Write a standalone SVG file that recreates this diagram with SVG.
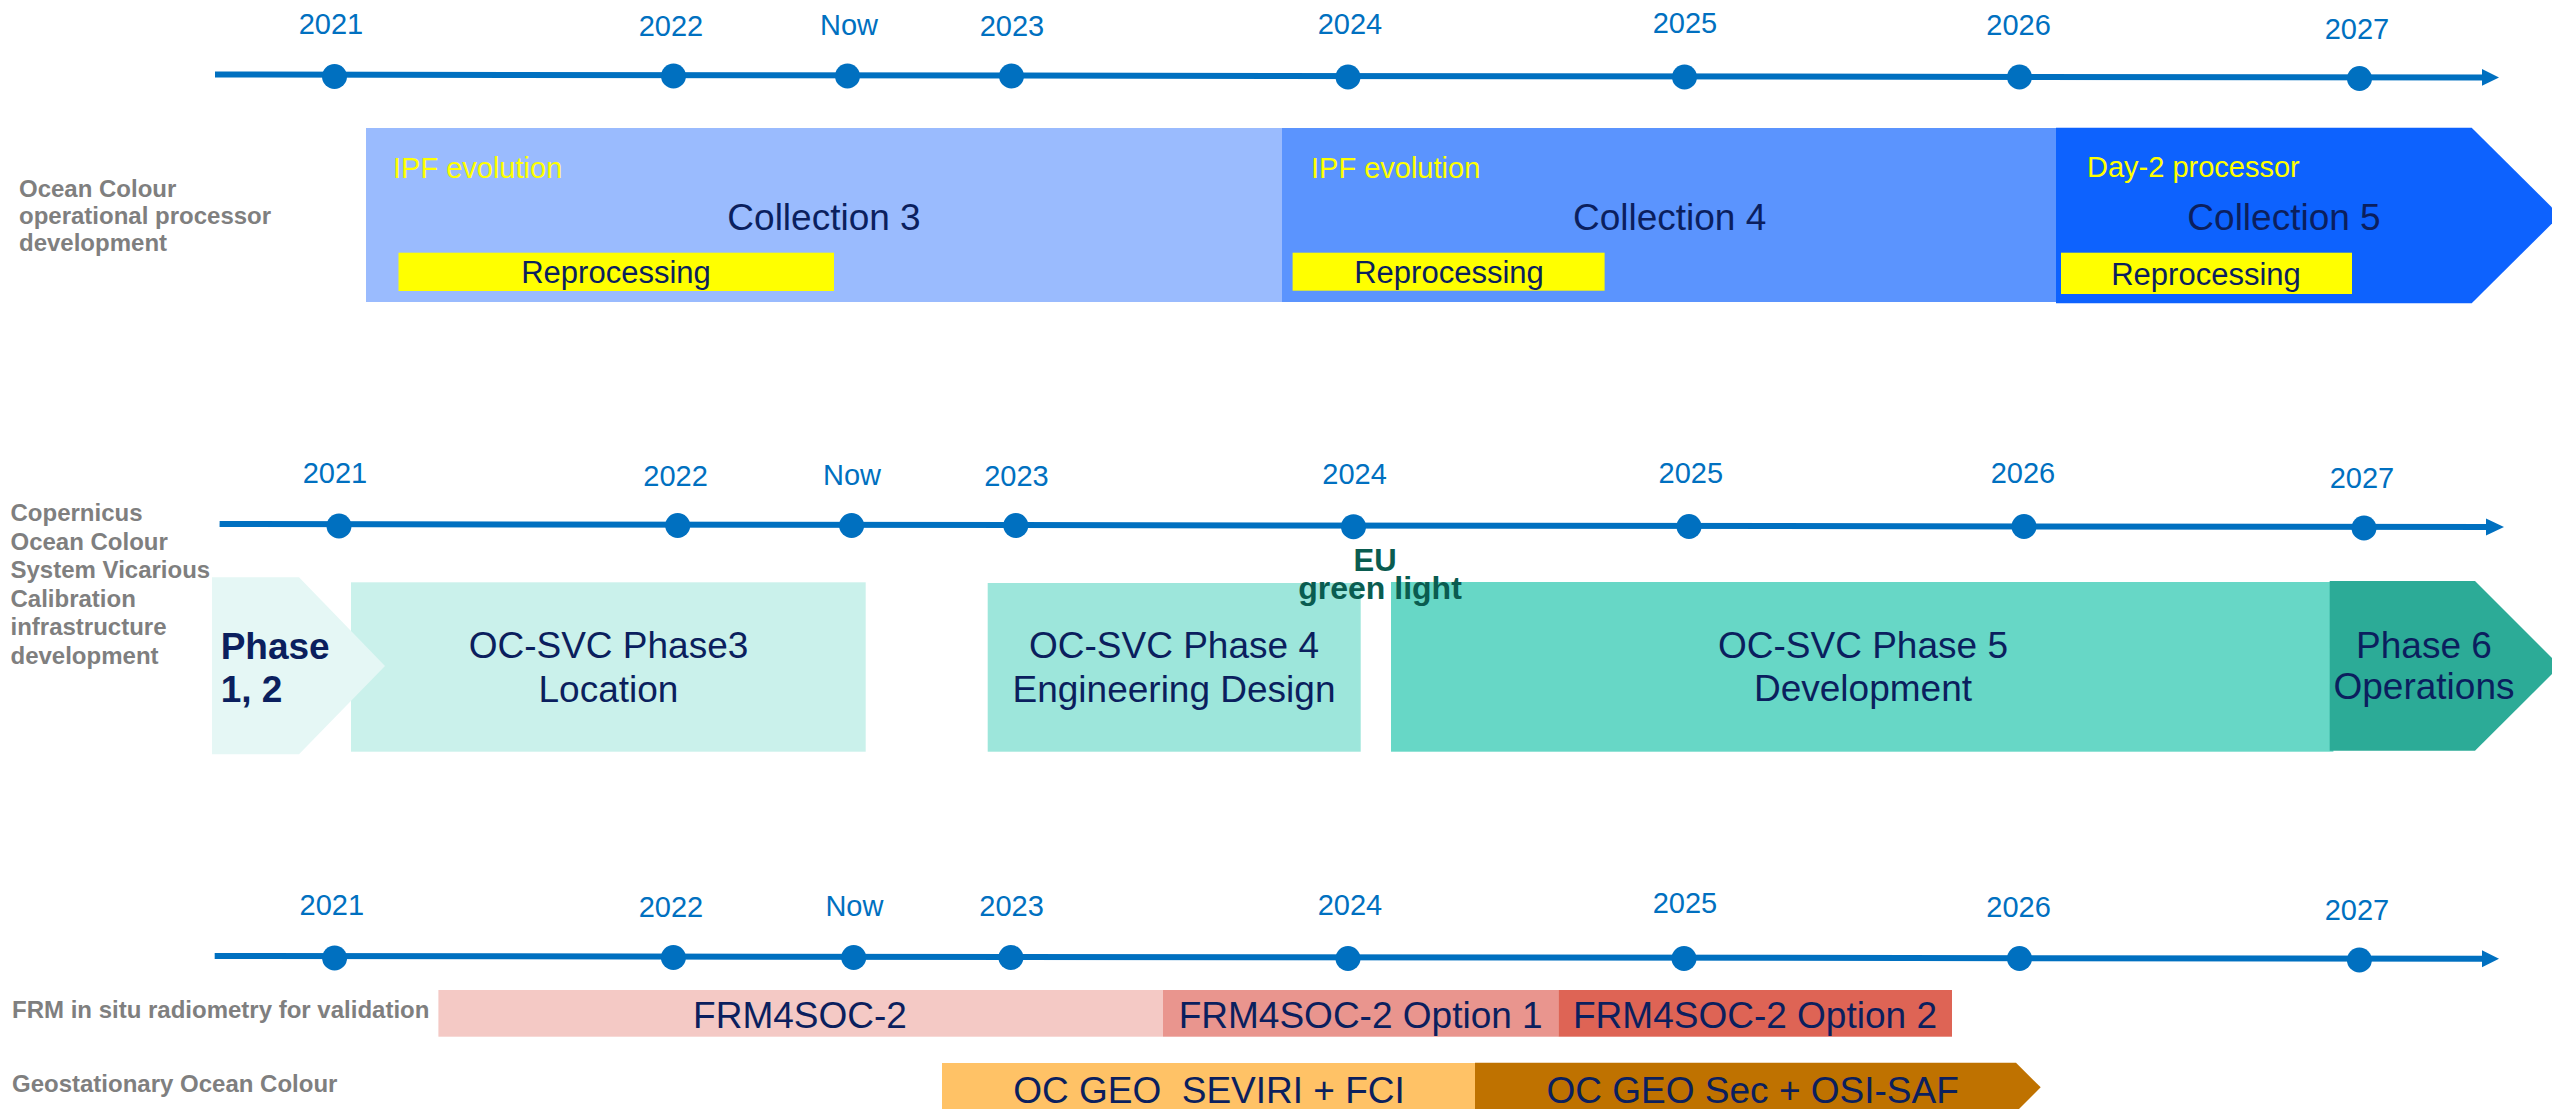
<svg xmlns="http://www.w3.org/2000/svg" width="2552" height="1109" viewBox="0 0 2552 1109">
  <style>
    .year { font-family: "Liberation Sans", Arial, sans-serif; font-size: 29px; fill: #0070C0; text-anchor: middle; }
    .side { font-family: "Liberation Sans", Arial, sans-serif; font-size: 24px; font-weight: bold; fill: #7F7F7F; }
    .main { font-family: "Liberation Sans", Arial, sans-serif; font-size: 37px; fill: #0B1F5E; text-anchor: middle; }
    .sub { font-family: "Liberation Sans", Arial, sans-serif; font-size: 29px; fill: #FFFF00; }
    .repro { font-family: "Liberation Sans", Arial, sans-serif; font-size: 31px; fill: #0B1F5E; text-anchor: middle; }
    .bold { font-weight: bold; }
    .axis { stroke: #0070C0; stroke-width: 6; fill: none; }
    .dot { fill: #0070C0; }
    .head { fill: #0070C0; }
    .eu { font-family: "Liberation Sans", Arial, sans-serif; font-weight: bold; fill: #0A5C50; text-anchor: middle; }
  </style>

  <!-- timeline axes (connectors) -->
  <g id="connectors">
    <g id="axis-1">
      <line class="axis" x1="215" y1="74.5" x2="2484" y2="77.5"/>
      <polygon class="head" points="2482,69 2499,77.4 2482,85.8"/>
      <circle class="dot" cx="334.5" cy="76.5" r="12.5"/>
      <circle class="dot" cx="673.5" cy="76" r="12.5"/>
      <circle class="dot" cx="847.5" cy="76" r="12.5"/>
      <circle class="dot" cx="1011.5" cy="76" r="12.5"/>
      <circle class="dot" cx="1348" cy="77" r="12.5"/>
      <circle class="dot" cx="1684.5" cy="77" r="12.5"/>
      <circle class="dot" cx="2019.5" cy="77" r="12.5"/>
      <circle class="dot" cx="2359.5" cy="78.5" r="12.5"/>
    </g>
    <g id="axis-2">
      <line class="axis" x1="219.6" y1="524" x2="2488" y2="527"/>
      <polygon class="head" points="2486,518.5 2504,527 2486,535.5"/>
      <circle class="dot" cx="339" cy="526" r="12.5"/>
      <circle class="dot" cx="677.7" cy="525.5" r="12.5"/>
      <circle class="dot" cx="851.6" cy="525.5" r="12.5"/>
      <circle class="dot" cx="1015.8" cy="525.5" r="12.5"/>
      <circle class="dot" cx="1353.5" cy="526.7" r="12.5"/>
      <circle class="dot" cx="1689" cy="526.5" r="12.5"/>
      <circle class="dot" cx="2024" cy="526.5" r="12.5"/>
      <circle class="dot" cx="2364" cy="528" r="12.5"/>
    </g>
    <g id="axis-3">
      <line class="axis" x1="214.7" y1="956" x2="2484" y2="958.7"/>
      <polygon class="head" points="2482,950.2 2499,958.7 2482,967.2"/>
      <circle class="dot" cx="334.6" cy="958" r="12.5"/>
      <circle class="dot" cx="673.4" cy="957.5" r="12.5"/>
      <circle class="dot" cx="853.7" cy="957.5" r="12.5"/>
      <circle class="dot" cx="1010.9" cy="957.5" r="12.5"/>
      <circle class="dot" cx="1348" cy="958.5" r="12.5"/>
      <circle class="dot" cx="1684" cy="958.5" r="12.5"/>
      <circle class="dot" cx="2019.5" cy="958.5" r="12.5"/>
      <circle class="dot" cx="2359.4" cy="960" r="12.5"/>
    </g>
  </g>

  <!-- year labels -->
  <g id="years-1">
    <text class="year" x="331" y="34">2021</text>
    <text class="year" x="671" y="36">2022</text>
    <text class="year" x="849" y="35">Now</text>
    <text class="year" x="1012" y="36">2023</text>
    <text class="year" x="1350" y="34">2024</text>
    <text class="year" x="1685" y="33">2025</text>
    <text class="year" x="2018.6" y="35">2026</text>
    <text class="year" x="2357" y="39">2027</text>
  </g>
  <g id="years-2">
    <text class="year" x="335" y="483">2021</text>
    <text class="year" x="675.6" y="485.7">2022</text>
    <text class="year" x="852" y="485">Now</text>
    <text class="year" x="1016.5" y="486">2023</text>
    <text class="year" x="1354.6" y="484">2024</text>
    <text class="year" x="1690.8" y="483">2025</text>
    <text class="year" x="2023" y="483">2026</text>
    <text class="year" x="2362" y="488">2027</text>
  </g>
  <g id="years-3">
    <text class="year" x="331.8" y="915">2021</text>
    <text class="year" x="671" y="916.7">2022</text>
    <text class="year" x="854.4" y="916">Now</text>
    <text class="year" x="1011.6" y="916">2023</text>
    <text class="year" x="1350" y="915">2024</text>
    <text class="year" x="1685" y="913">2025</text>
    <text class="year" x="2018.6" y="916.7">2026</text>
    <text class="year" x="2357" y="920">2027</text>
  </g>

  <!-- row labels -->
  <g id="label-processor">
    <text class="side" x="19" y="197">Ocean Colour</text>
    <text class="side" x="19" y="224">operational processor</text>
    <text class="side" x="19" y="251">development</text>
  </g>
  <g id="label-svc">
    <text class="side" x="10.5" y="521">Copernicus</text>
    <text class="side" x="10.5" y="549.6">Ocean Colour</text>
    <text class="side" x="10.5" y="578.2">System Vicarious</text>
    <text class="side" x="10.5" y="606.8">Calibration</text>
    <text class="side" x="10.5" y="635.4">infrastructure</text>
    <text class="side" x="10.5" y="664">development</text>
  </g>
  <g id="label-frm">
    <text class="side" x="12" y="1018">FRM in situ radiometry for validation</text>
  </g>
  <g id="label-geo">
    <text class="side" x="12" y="1092">Geostationary Ocean Colour</text>
  </g>

  <!-- row 1: processor collections -->
  <g id="collection-3">
    <rect x="366" y="128" width="916" height="174" fill="#9ABBFE"/>
    <text class="sub" x="393" y="178">IPF evolution</text>
    <text class="main" x="824" y="230">Collection 3</text>
    <rect x="398.5" y="252.7" width="435.5" height="38.3" fill="#FFFF00"/>
    <text class="repro" x="616" y="283">Reprocessing</text>
  </g>
  <g id="collection-4">
    <rect x="1282" y="128" width="774" height="174" fill="#5B94FE"/>
    <text class="sub" x="1311" y="178">IPF evolution</text>
    <text class="main" x="1669.6" y="230">Collection 4</text>
    <rect x="1292.6" y="252.7" width="312" height="38" fill="#FFFF00"/>
    <text class="repro" x="1449" y="283">Reprocessing</text>
  </g>
  <g id="collection-5">
    <polygon points="2056,127.7 2471.7,127.7 2560,215.5 2471.7,303.3 2056,303.3" fill="#0D62FE"/>
    <text class="sub" x="2087" y="177">Day-2 processor</text>
    <text class="main" x="2284" y="230">Collection 5</text>
    <rect x="2061" y="252.7" width="291" height="41.3" fill="#FFFF00"/>
    <text class="repro" x="2206" y="285">Reprocessing</text>
  </g>

  <!-- row 2: OC-SVC phases -->
  <g id="phase-3">
    <rect x="351" y="582.3" width="514.7" height="169.4" fill="#CAF1EB"/>
    <text class="main" x="608.5" y="658">OC-SVC Phase3</text>
    <text class="main" x="608.5" y="701.7">Location</text>
  </g>
  <g id="phase-1-2">
    <polygon points="212,577.3 299,577.3 385,666 299,754.3 212,754.3" fill="#E5F7F5"/>
    <text class="main bold" x="220.7" y="659.3" style="text-anchor:start">Phase</text>
    <text class="main bold" x="220.7" y="701.7" style="text-anchor:start">1, 2</text>
  </g>
  <g id="phase-4">
    <rect x="987.7" y="583" width="373" height="168.7" fill="#9DE6DB"/>
    <text class="main" x="1174" y="658">OC-SVC Phase 4</text>
    <text class="main" x="1174" y="701.7">Engineering Design</text>
  </g>
  <g id="phase-5">
    <rect x="1391" y="582" width="942.4" height="169.7" fill="#67D7C6"/>
    <text class="main" x="1863" y="658">OC-SVC Phase 5</text>
    <text class="main" x="1863" y="701">Development</text>
  </g>
  <g id="phase-6">
    <polygon points="2329.7,581 2475,581 2560,666 2475,750.7 2329.7,750.7" fill="#2CAB97"/>
    <text class="main" x="2424" y="658">Phase 6</text>
    <text class="main" x="2424" y="699">Operations</text>
  </g>
  <g id="eu-green-light">
    <text class="eu" x="1375" y="570.7" font-size="31">EU</text>
    <text class="eu" x="1380" y="599" font-size="32">green light</text>
  </g>

  <!-- row 3: FRM4SOC-2 -->
  <g id="frm4soc-2">
    <rect x="438.4" y="990" width="724.6" height="46.7" fill="#F4C9C5"/>
    <text class="main" x="800" y="1027.7">FRM4SOC-2</text>
  </g>
  <g id="frm4soc-2-option-1">
    <rect x="1163" y="990" width="395.4" height="46.7" fill="#E9958E"/>
    <text class="main" x="1360.7" y="1027.7">FRM4SOC-2 Option 1</text>
  </g>
  <g id="frm4soc-2-option-2">
    <rect x="1558.4" y="990" width="393.6" height="46.7" fill="#DE6455"/>
    <text class="main" x="1755" y="1027.7">FRM4SOC-2 Option 2</text>
  </g>

  <!-- row 4: geostationary ocean colour -->
  <g id="oc-geo-seviri-fci">
    <rect x="942" y="1063" width="534" height="50" fill="#FFC266"/>
    <text class="main" x="1209" y="1103" xml:space="preserve">OC GEO  SEVIRI + FCI</text>
  </g>
  <g id="oc-geo-sec-osi-saf">
    <polygon points="1475,1062.7 2016,1062.7 2040.7,1087.3 2016,1112 1475,1112" fill="#BF7200"/>
    <text class="main" x="1752.7" y="1103.3">OC GEO Sec + OSI-SAF</text>
  </g>
</svg>
